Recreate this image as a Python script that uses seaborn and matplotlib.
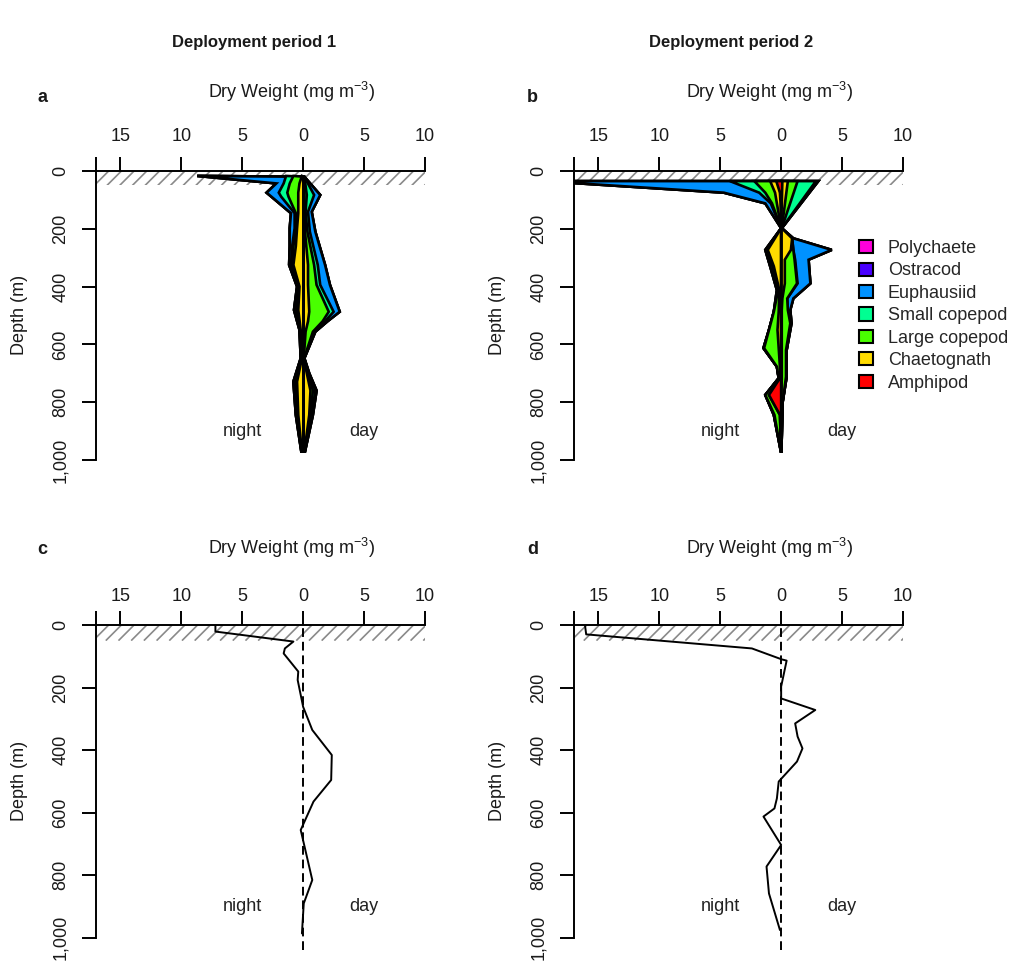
import numpy as np
import pandas as pd
import matplotlib
matplotlib.use("Agg")
import matplotlib.pyplot as plt
from matplotlib.patches import Patch, Rectangle
from matplotlib.collections import LineCollection
import seaborn as sns

sns.set_style("white")
plt.rcParams["font.family"] = ["Liberation Sans", "DejaVu Sans"]
plt.rcParams["mathtext.default"] = "regular"

# taxa, stacked from the centre line outwards
taxa = ["Amphipod", "Chaetognath", "Large copepod", "Small copepod",
        "Euphausiid", "Ostracod", "Polychaete"]
taxa_colors = ["#FF0000", "#FFDB00", "#49FF00", "#00FF92",
               "#0092FF", "#4900FF", "#FF00DB"]

# dry weight (mg m-3) per depth bin, columns follow taxa
d1_night_depth = [17, 43, 75, 89, 146, 198, 260, 325, 400, 481, 550, 648, 729, 844, 971]
d1_night = [
    [0, 0.10, 0.70, 0.60, 7.30, 0, 0],
    [0, 0.30, 0.80, 0.50, 0.60, 0, 0],
    [0, 0.40, 0.90, 0.70, 1.00, 0, 0],
    [0, 0.40, 0.80, 0.60, 0.80, 0, 0],
    [0, 0.40, 0.20, 0.10, 0.30, 0, 0],
    [0, 0.50, 0.10, 0.10, 0.40, 0, 0],
    [0, 0.60, 0.20, 0.10, 0.20, 0, 0],
    [0, 0.80, 0.10, 0.10, 0.15, 0, 0],
    [0, 0.30, 0.10, 0.05, 0.05, 0, 0],
    [0, 0.40, 0.15, 0.10, 0.10, 0, 0],
    [0, 0.20, 0.05, 0.02, 0.03, 0, 0],
    [0, 0.10, 0.05, 0.02, 0.03, 0, 0],
    [0, 0.50, 0.15, 0.10, 0.05, 0, 0],
    [0, 0.40, 0.10, 0.05, 0.05, 0, 0],
    [0, 0.10, 0.02, 0.02, 0.01, 0, 0],
]
d1_day_depth = [20, 83, 141, 210, 325, 394, 487, 520, 556, 648, 700, 760, 844, 971]
d1_day = [
    [0, 0.05, 0.05, 0.00, 0.00, 0, 0],
    [0, 0.10, 0.20, 0.60, 0.50, 0, 0],
    [0, 0.10, 0.10, 0.20, 0.30, 0, 0],
    [0, 0.15, 0.20, 0.20, 0.45, 0, 0],
    [0, 0.40, 0.50, 0.30, 0.60, 0, 0],
    [0, 0.40, 0.70, 0.30, 0.80, 0, 0],
    [0, 0.50, 1.60, 0.40, 0.50, 0, 0],
    [0, 0.40, 1.20, 0.20, 0.20, 0, 0],
    [0, 0.20, 0.60, 0.10, 0.10, 0, 0],
    [0, 0.05, 0.03, 0.01, 0.01, 0, 0],
    [0, 0.30, 0.10, 0.05, 0.05, 0, 0],
    [0, 0.60, 0.20, 0.20, 0.10, 0, 0],
    [0, 0.50, 0.10, 0.10, 0.10, 0, 0],
    [0, 0.10, 0.02, 0.02, 0.01, 0, 0],
]
d2_night_depth = [35, 75, 112, 198, 273, 330, 412, 487, 550, 613, 677, 717, 775, 844, 971]
d2_night = [
    [0.40, 0.50, 1.30, 2.00, 15.30, 0, 0],
    [0.10, 0.40, 0.80, 0.50, 2.90, 0, 0],
    [0.05, 0.30, 0.40, 0.10, 0.45, 0, 0],
    [0.00, 0.00, 0.00, 0.00, 0.00, 0, 0],
    [0.00, 1.10, 0.10, 0.00, 0.10, 0, 0],
    [0.00, 0.60, 0.10, 0.00, 0.20, 0, 0],
    [0.00, 0.15, 0.10, 0.00, 0.10, 0, 0],
    [0.00, 0.20, 0.40, 0.00, 0.00, 0, 0],
    [0.00, 0.30, 0.70, 0.00, 0.00, 0, 0],
    [0.00, 0.20, 1.20, 0.05, 0.00, 0, 0],
    [0.00, 0.10, 0.25, 0.00, 0.00, 0, 0],
    [0.10, 0.00, 0.10, 0.00, 0.00, 0, 0],
    [1.00, 0.00, 0.30, 0.00, 0.00, 0, 0],
    [0.10, 0.00, 0.45, 0.05, 0.00, 0, 0],
    [0.00, 0.00, 0.02, 0.00, 0.00, 0, 0],
]
d2_day_depth = [35, 198, 233, 273, 307, 389, 441, 481, 527, 620, 712, 800, 971]
d2_day = [
    [0.10, 0.45, 0.80, 1.50, 0.20, 0, 0],
    [0.00, 0.05, 0.00, 0.00, 0.00, 0, 0],
    [0.00, 0.90, 0.00, 0.00, 0.10, 0, 0],
    [0.00, 0.80, 0.20, 0.00, 3.15, 0, 0],
    [0.00, 0.30, 0.80, 0.05, 1.10, 0, 0],
    [0.00, 0.30, 1.00, 0.05, 1.05, 0, 0],
    [0.00, 0.10, 0.40, 0.00, 0.50, 0, 0],
    [0.00, 0.05, 0.50, 0.00, 0.20, 0, 0],
    [0.00, 0.05, 0.70, 0.05, 0.05, 0, 0],
    [0.00, 0.05, 0.35, 0.05, 0.00, 0, 0],
    [0.00, 0.05, 0.35, 0.05, 0.00, 0, 0],
    [0.00, 0.02, 0.10, 0.00, 0.00, 0, 0],
    [0.00, 0.00, 0.02, 0.00, 0.00, 0, 0],
]

# net day - night difference (mg m-3)
c_depth = [0, 21, 53, 75, 91, 149, 176, 262, 336, 416, 496, 565, 656, 816, 891, 987]
c_net = [-7.2, -7.2, -0.8, -1.5, -1.6, -0.4, -0.45, 0.0, 0.75, 2.35, 2.3, 0.85, -0.2, 0.75, 0.05, -0.1]
d_depth = [0, 30, 75, 110, 114, 197, 235, 272, 315, 357, 395, 437, 501, 555, 587, 613, 704, 773, 859, 976]
d_net = [-16.1, -16.0, -2.4, 0.05, 0.45, 0.0, 0.0, 2.8, 1.15, 1.35, 1.75, 1.3, -0.2, -0.35, -0.55, -1.45, 0.0, -1.2, -1.0, -0.1]

x_ticks = [-17, -15, -10, -5, 0, 5, 10]
x_labels = ["", "15", "10", "5", "0", "5", "10"]
y_ticks = [0, 200, 400, 600, 800, 1000]
y_labels = ["0", "200", "400", "600", "800", "1,000"]

W, H = 1018, 965
fig = plt.figure(figsize=(W / 100, H / 100), dpi=100)


def fax(l, r, t, b):
    return fig.add_axes([l / W, 1 - b / H, (r - l) / W, (b - t) / H])


def ftext(x, y, s, **kw):
    fig.text(x / W, 1 - y / H, s, **kw)


def base_axes(ax, pad_x):
    ax.set_xlim(-17, 10)
    ax.set_ylim(1040, 0)
    ax.set_facecolor("white")
    for s in ["right", "bottom"]:
        ax.spines[s].set_visible(False)
    for s in ["left", "top"]:
        ax.spines[s].set_visible(True)
        ax.spines[s].set_color("black")
        ax.spines[s].set_linewidth(1.4)
    ax.spines["top"].set_bounds(-17, 10)
    ax.spines["left"].set_bounds(0, 1000)
    ax.xaxis.tick_top()
    ax.set_xticks(x_ticks)
    ax.set_xticklabels(x_labels)
    ax.set_yticks(y_ticks)
    ax.set_yticklabels(y_labels)
    ax.tick_params(axis="x", top=True, bottom=False, length=10, width=1.4,
                   labelsize=13, pad=pad_x, colors="black", labelcolor="#1a1a1a")
    ax.tick_params(axis="y", left=True, length=10, width=1.4, labelsize=13,
                   pad=9, labelrotation=90, colors="black", labelcolor="#1a1a1a")
    for lab in ax.get_yticklabels():
        lab.set_va("center")
    ax.set_xlabel("")
    ax.set_ylabel("")
    ax.grid(False)

    # hatched surface layer 0-50 m
    fig.canvas.draw()
    bb = ax.get_window_extent()
    ppx = bb.width / 27.0
    ppy = bb.height / 1040.0
    dx = 50 * ppy / ppx
    segs = [[(x0, 50), (x0 + dx, 0)] for x0 in np.arange(-17 - dx, 10, 12.7 / ppx)]
    clip = Rectangle((-17, 0), 27, 50, transform=ax.transData, fill=False, visible=False)
    ax.add_patch(clip)
    lc = LineCollection(segs, colors="#8a8a8a", linewidths=1.2, zorder=1)
    ax.add_collection(lc)
    lc.set_clip_path(clip)

    ax.text(-5, 900, "night", ha="center", va="center", fontsize=13, color="#222222")
    ax.text(5, 900, "day", ha="center", va="center", fontsize=13, color="#222222")


def stacked(ax, nd, nv, dd, dv):
    cn = np.cumsum(np.array(nv), axis=1)
    cd = np.cumsum(np.array(dv), axis=1)
    for k in range(len(taxa) - 1, -1, -1):
        xs = np.concatenate([-cn[:, k], cd[::-1, k]])
        ys = np.concatenate([nd, dd[::-1]])
        ax.fill(xs, ys, facecolor=taxa_colors[k], edgecolor="black",
                linewidth=1.9, joinstyle="miter", zorder=2)


def net_line(ax, depth, net):
    ax.axvline(0, color="black", lw=1.4, ls=(0, (4.5, 2.5)), zorder=2)
    df = pd.DataFrame({"depth": depth, "net": net})
    sns.lineplot(data=df, x="net", y="depth", orient="y", sort=False,
                 estimator=None, color="black", lw=1.4, ax=ax, zorder=3)


ax_a = fax(96, 425, 171, 171 + 0.289 * 1040)
ax_b = fax(574, 903, 171, 171 + 0.289 * 1040)
ax_c = fax(96, 425, 625, 625 + 0.3125 * 1040)
ax_d = fax(574, 903, 625, 625 + 0.3125 * 1040)

base_axes(ax_a, 8.5)
base_axes(ax_b, 8.5)
base_axes(ax_c, 4.3)
base_axes(ax_d, 4.3)

stacked(ax_a, np.array(d1_night_depth), d1_night, np.array(d1_day_depth), d1_day)
stacked(ax_b, np.array(d2_night_depth), d2_night, np.array(d2_day_depth), d2_day)
net_line(ax_c, c_depth, c_net)
net_line(ax_d, d_depth, d_net)
for ax in [ax_c, ax_d]:
    ax.set_xlim(-17, 10)
    ax.set_ylim(1040, 0)
    ax.set_xlabel("")
    ax.set_ylabel("")

ftext(254, 42, "Deployment period 1", ha="center", va="center", fontsize=12,
      fontweight="bold", color="#1a1a1a")
ftext(731, 42, "Deployment period 2", ha="center", va="center", fontsize=12,
      fontweight="bold", color="#1a1a1a")

for x, y, s in [(42, 97, "a"), (532, 97, "b"), (42, 549, "c"), (533, 549, "d")]:
    ftext(x, y, s, ha="center", va="center", fontsize=13, fontweight="bold", color="#1a1a1a")

for x, y in [(291, 92), (769, 92), (291, 548), (769, 548)]:
    ftext(x, y, "Dry Weight (mg m$^{-3}$)", ha="center", va="center", fontsize=13, color="#1a1a1a")

for x, y in [(20, 315), (498, 315), (20, 781), (498, 781)]:
    ftext(x, y, "Depth (m)", ha="center", va="center", rotation=90, fontsize=13, color="#1a1a1a")

handles = [Patch(facecolor=c, edgecolor="black", linewidth=1.5) for c in taxa_colors][::-1]
fig.legend(handles, taxa[::-1], loc="upper left", bbox_to_anchor=(859 / W, 1 - 240 / H),
           frameon=False, fontsize=13, handlelength=0.75, handleheight=0.75,
           handletextpad=0.85, labelspacing=0.3, borderaxespad=0, borderpad=0)

fig.savefig("out.png", dpi=100, facecolor="white")
